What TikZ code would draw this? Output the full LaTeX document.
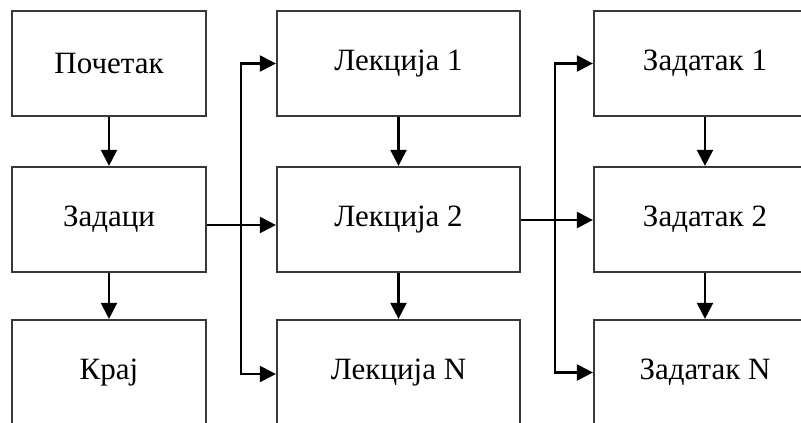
\documentclass[tikz,border=0pt]{standalone}
\usepackage{fontspec}
\setmainfont{Liberation Serif}
\usetikzlibrary{arrows.meta}
\begin{document}
\begin{tikzpicture}[x=1pt,y=-1pt,
  box/.style={draw=black!78,line width=2.2pt,rectangle,minimum height=105pt,
    inner sep=0pt,font=\fontsize{31}{33}\selectfont},
  col1/.style={box,minimum width=194pt},
  col2/.style={box,minimum width=243pt},
  col3/.style={box,minimum width=222pt},
  link/.style={line width=2.2pt,black,-{Triangle[length=16pt,width=16pt]}},
  plain/.style={line width=2.2pt,black}]
\clip (0,0) rectangle (801,423);
\fill[white] (0,0) rectangle (801,423);

% first column
\node[col1] (start) at (109,63.5) {Почетак};
\node[col1] (tasks) at (109,219.5) {Задаци};
\node[col1] (end)   at (109,372.5) {Крај};

% lectures
\node[col2] (l1) at (398.5,63.5) {Лекција 1};
\node[col2] (l2) at (398.5,219.5) {Лекција 2};
\node[col2] (ln) at (398.5,372.5) {Лекција N};

% assignments
\node[col3] (z1) at (705,63.5) {Задатак 1};
\node[col3] (z2) at (705,219.5) {Задатак 2};
\node[col3] (zn) at (705,372.5) {Задатак N};

% vertical flow
\draw[link] (start.south) -- (tasks.north);
\draw[link] (tasks.south) -- (end.north);
\draw[link] (l1.south) -- (l2.north);
\draw[link] (l2.south) -- (ln.north);
\draw[link] (z1.south) -- (z2.north);
\draw[link] (z2.south) -- (zn.north);

% branch from tasks to lectures
\coordinate (ja) at (241,225);
\draw[plain] (tasks.east |- ja) -- (ja);
\draw[link] (ja) -- (l2.west |- ja);
\draw[link] (ja) |- (l1.west);
\draw[link] (ja) |- ([yshift=-1.5pt]ln.west);

% branch from lectures to assignments
\coordinate (jb) at (555,220);
\draw[plain] (l2.east |- jb) -- (jb);
\draw[link] (jb) -- (z2.west |- jb);
\draw[link] (jb) |- (z1.west);
\draw[link] (jb) |- (zn.west);
\end{tikzpicture}
\end{document}
